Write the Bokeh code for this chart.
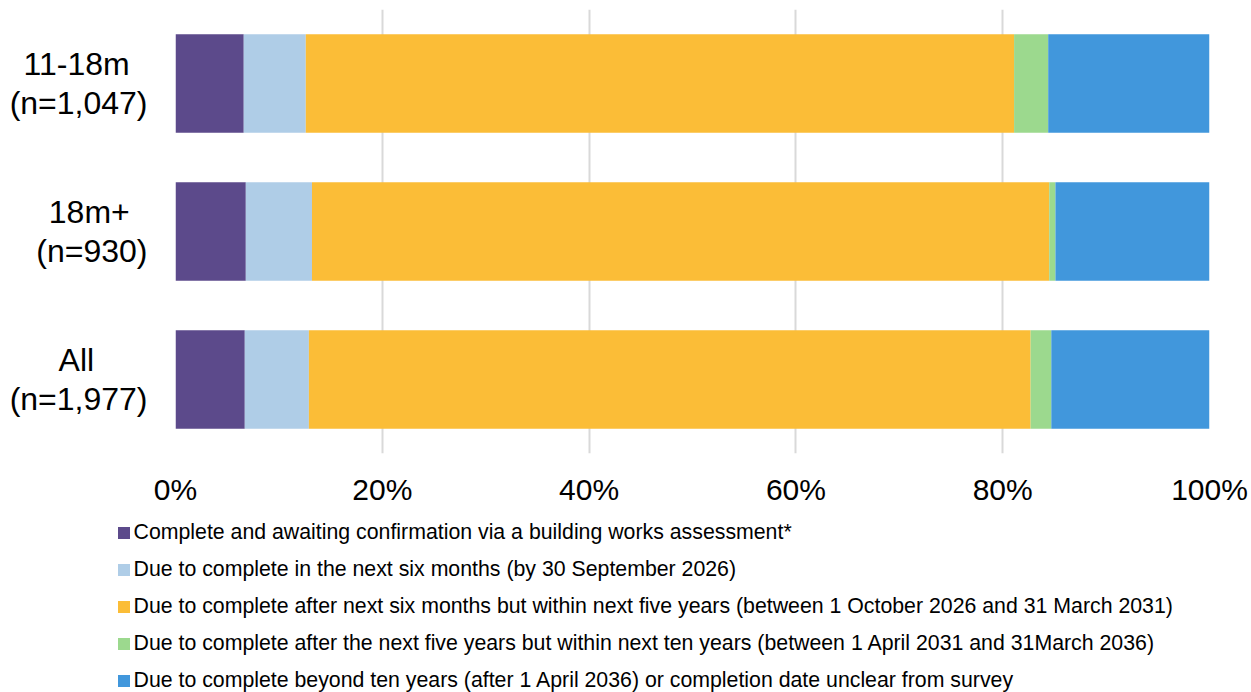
from bokeh.plotting import figure
from bokeh.models import (FactorRange, Range1d, Legend, LegendItem,
                          PrintfTickFormatter, FixedTicker, ColumnDataSource)
from bokeh.embed import file_html
from bokeh.resources import INLINE

# ---- data ----
NB = "\u00a0"
categories = ["11-18m" + NB * 2 + "\n(n=1,047)",
              "18m+" + NB * 2 + "\n(n=930)",
              "All" + NB * 6 + "\n(n=1,977)"]
series_names = [
    "Complete and awaiting confirmation via a building works assessment*",
    "Due to complete in the next six months (by 30 September 2026)",
    "Due to complete after next six months but within next five years (between 1 October 2026 and 31 March 2031)",
    "Due to complete after the next five years but within next ten years (between 1 April 2031 and 31March 2036)",
    "Due to complete beyond ten years (after 1 April 2036) or completion date unclear from survey",
]
complete_awaiting = [6.6, 6.8, 6.7]
next_six_months = [6.0, 6.4, 6.2]
within_five_years = [68.5, 71.3, 69.8]
within_ten_years = [3.3, 0.6, 2.0]
beyond_ten_years = [15.6, 14.9, 15.3]
x_ticks = [0, 20, 40, 60, 80, 100]

colors = ["#5C4A8B", "#AFCDE7", "#FBBD37", "#9CD98E", "#4197DC"]
FONT = "Liberation Sans"

keys = ["s0", "s1", "s2", "s3", "s4"]
source = ColumnDataSource(dict(
    cat=categories,
    s0=complete_awaiting,
    s1=next_six_months,
    s2=within_five_years,
    s3=within_ten_years,
    s4=beyond_ten_years,
))

p = figure(
    width=1251, height=510,
    y_range=FactorRange(factors=list(reversed(categories)), range_padding=0),
    x_range=Range1d(0, 100),
    output_backend="svg", toolbar_location=None,
    min_border_left=175, min_border_right=42, min_border_top=9, min_border_bottom=57,
)
p.outline_line_color = None

p.hbar_stack(keys, y="cat", height=0.667, color=colors, line_color=None, source=source)

# grid
p.ygrid.visible = False
p.xgrid.ticker = FixedTicker(ticks=x_ticks)
p.xgrid.grid_line_color = "#D9D9D9"
p.xgrid.grid_line_width = 2

# x axis
p.xaxis.ticker = FixedTicker(ticks=x_ticks)
p.xaxis.formatter = PrintfTickFormatter(format="%d%%")
p.xaxis.axis_line_color = None
p.xaxis.major_tick_line_color = None
p.xaxis.major_tick_out = 0
p.xaxis.minor_tick_line_color = None
p.xaxis.major_label_text_font = FONT
p.xaxis.major_label_text_font_size = "30px"
p.xaxis.major_label_text_color = "black"
p.xaxis.major_label_standoff = 19

# y axis
p.yaxis.axis_line_color = None
p.yaxis.major_tick_line_color = None
p.yaxis.major_tick_out = 0
p.yaxis.minor_tick_line_color = None
p.yaxis.major_label_text_font = FONT
p.yaxis.major_label_text_font_size = "32px"
p.yaxis.major_label_text_color = "black"
p.yaxis.major_label_text_line_height = 1.06
p.yaxis.major_label_standoff = 28

# ---- legend (separate root so its frame is not aligned with the chart's) ----
q = figure(
    width=1251, height=182,
    y_range=FactorRange(factors=list(reversed(categories)), range_padding=0),
    x_range=Range1d(0, 100),
    x_axis_type=None, y_axis_type=None,
    output_backend="svg", toolbar_location=None,
    min_border_left=0, min_border_right=0, min_border_top=0, min_border_bottom=0,
)
q.outline_line_color = None
q.xgrid.visible = False
q.ygrid.visible = False
# same series with zero bar height: only their legend swatches show
legend_renderers = q.hbar_stack(keys, y="cat", height=0, color=colors,
                                line_color=None, source=source)

items = [LegendItem(label=n, renderers=[r]) for n, r in zip(series_names, legend_renderers)]
legend = Legend(
    items=items, location=(115.5, -1),
    orientation="vertical",
    glyph_width=15, glyph_height=15, label_height=25,
    label_standoff=3, spacing=12,
    padding=0, margin=0,
    border_line_color=None, background_fill_alpha=0,
    label_text_font=FONT, label_text_font_size="21.3px", label_text_color="black",
)
q.add_layout(legend, "center")

open("out.html", "w").write(file_html([p, q], INLINE))
